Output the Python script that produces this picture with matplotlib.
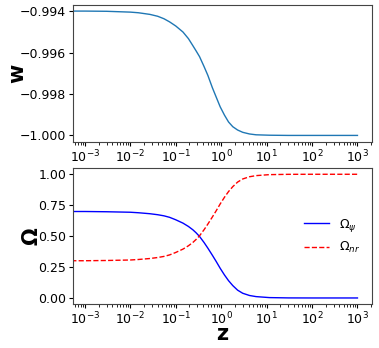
import matplotlib
matplotlib.use("Agg")
from matplotlib import pyplot as plt

# redshift samples
z = [5e-4, 1e-3, 3e-3, 0.01, 0.015, 0.027, 0.04, 0.055, 0.073, 0.1, 0.144,
     0.19, 0.238, 0.28, 0.334, 0.42, 0.508, 0.64, 0.776, 0.95, 1.18, 1.45,
     1.80, 2.3, 2.98, 4.2, 5.86, 11.5, 30, 100, 1000]

w = [-0.99400, -0.99400, -0.99401, -0.99405, -0.99408, -0.99416, -0.99425,
     -0.99437, -0.99452, -0.99472, -0.99501, -0.99533, -0.99567, -0.99592,
     -0.99620, -0.99668, -0.99710, -0.99770, -0.99815, -0.99862, -0.99902,
     -0.99935, -0.99958, -0.99974, -0.99985, -0.99993, -0.99997, -0.99999,
     -1.0, -1.0, -1.0]

omega_psi = [0.699, 0.699, 0.697, 0.693, 0.689, 0.681, 0.673, 0.664, 0.652,
             0.632, 0.605, 0.578, 0.551, 0.527, 0.497, 0.448, 0.403, 0.345,
             0.295, 0.240, 0.186, 0.140, 0.100, 0.063, 0.038, 0.020, 0.011,
             0.003, 0.0005, 0.0, 0.0]

omega_nr = [0.301, 0.301, 0.303, 0.307, 0.311, 0.319, 0.327, 0.336, 0.348,
            0.368, 0.395, 0.422, 0.449, 0.473, 0.503, 0.552, 0.597, 0.655,
            0.705, 0.760, 0.814, 0.860, 0.900, 0.937, 0.962, 0.980, 0.989,
            0.997, 0.9995, 1.0, 1.0]

fig = plt.figure(figsize=(3.79, 3.48), dpi=100)
ax1 = fig.add_axes([0.193, 0.593, 0.788, 0.393])
ax2 = fig.add_axes([0.193, 0.126, 0.788, 0.391])

ax1.plot(z, w, color='tab:blue', lw=1)
ax1.set_xscale('log')
ax1.set_xlim(5.5e-4, 2.07e3)
ax1.set_yticks([-0.994, -0.996, -0.998, -1.000])
ax1.set_ylabel('w', fontsize=15, fontweight='bold')
ax1.yaxis.set_label_coords(-0.155, 0.5)

ax2.plot(z, omega_psi, color='b', lw=1, label=r'$\Omega_\psi$')
ax2.plot(z, omega_nr, color='r', lw=1, ls='--', label=r'$\Omega_{nr}$')
ax2.set_xscale('log')
ax2.set_xlim(5.5e-4, 2.07e3)
ax2.set_yticks([0.0, 0.25, 0.5, 0.75, 1.0])
ax2.set_ylabel('Ω', fontsize=15, fontweight='bold')
ax2.yaxis.set_label_coords(-0.105, 0.5)
ax2.set_xlabel('z', fontsize=15, fontweight='bold')
ax2.xaxis.set_label_coords(0.5, -0.145)
ax2.legend(loc='center right', frameon=False, fontsize=9)

for ax in (ax1, ax2):
    ax.tick_params(labelsize=9, length=3, pad=2)
    ax.tick_params(which='minor', length=1.8)
    for s in ax.spines.values():
        s.set_color('#444444')

fig.savefig('out.png', dpi=100)
